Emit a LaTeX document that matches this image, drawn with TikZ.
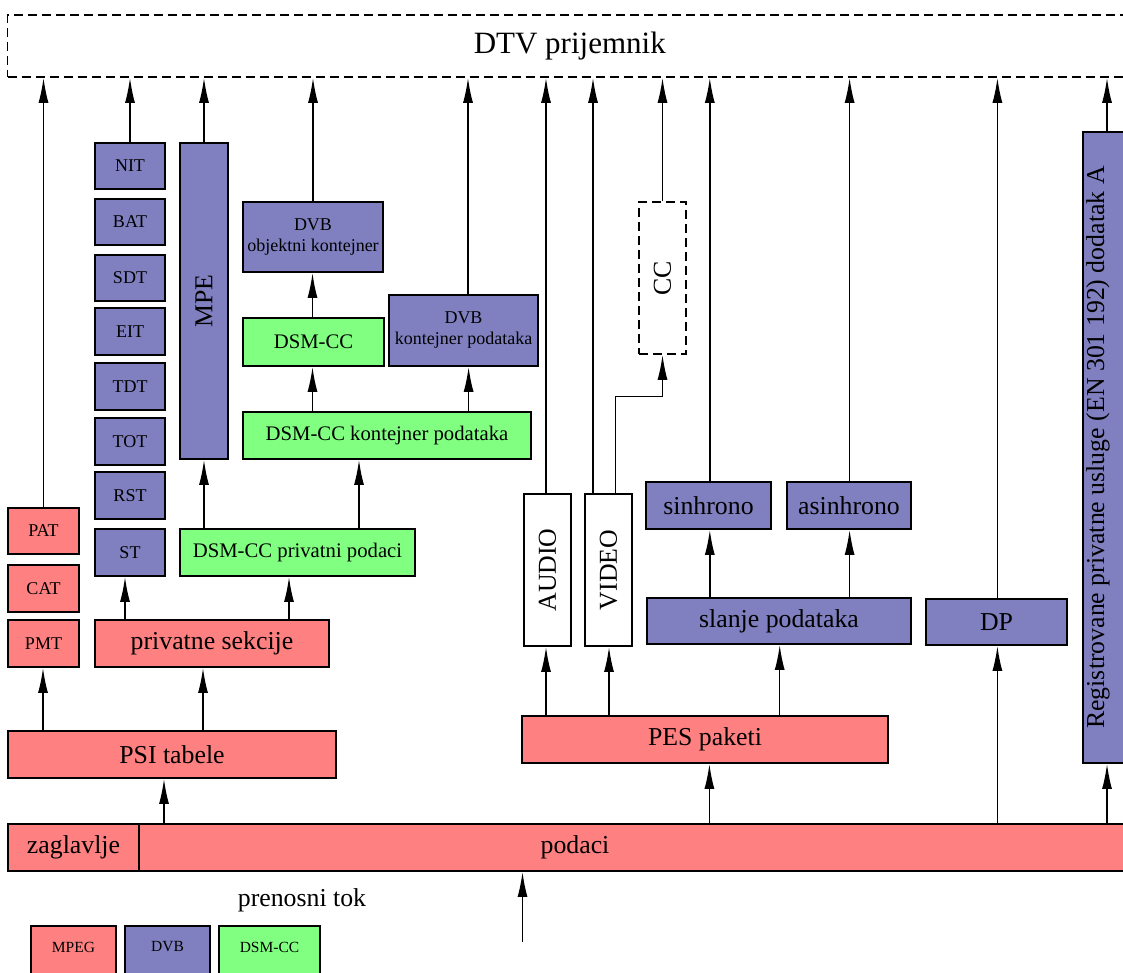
\documentclass[tikz,border=0pt]{standalone}
\usepackage{fontspec}
\setmainfont{Liberation Serif}
\usetikzlibrary{arrows.meta}
\definecolor{mpegc}{HTML}{FF8080}
\definecolor{dvbc}{HTML}{8080C0}
\definecolor{dsmc}{HTML}{80FF80}
\newcommand\SzBig{\fontsize{31}{36}\selectfont}
\newcommand\SzMed{\fontsize{25.8}{30}\selectfont}
\newcommand\SzDsm{\fontsize{20.7}{24}\selectfont}
\newcommand\SzSmall{\fontsize{18}{21}\selectfont}
\newcommand\SzTiny{\fontsize{15.5}{18}\selectfont}
\newcommand\RBox[7]{\node[#1, minimum width={(#4)-(#2)}, minimum height={(#5)-(#3)}] (#6) at ({((#2)+(#4))/2},{((#3)+(#5))/2}) {#7};}
\begin{document}
\begin{tikzpicture}[x=1pt,y=-1pt,
  box/.style={draw, line width=1.8pt, inner sep=0pt},
  mpeg/.style={box, fill=mpegc},
  dvb/.style={box, fill=dvbc},
  dsm/.style={box, fill=dsmc},
  plain/.style={box, fill=white},
  dash box/.style={draw, dash pattern=on 9pt off 5pt, line width=1.6pt, inner sep=0pt},
  arr/.style={-{Latex[length=25pt,width=10pt]}, line width=1.5pt},
  lbl/.style={inner sep=0pt}]
\useasboundingbox (0,0) rectangle (1123,972);
\clip (0,0) rectangle (1123,972);
% top receiver
\RBox{dash box, font=\SzBig}{7.5}{15}{1132}{77}{dtv}{DTV prijemnik}
% DVB SI tables
\RBox{dvb, font=\SzSmall}{95}{143}{165}{189}{nit}{NIT}
\RBox{dvb, font=\SzSmall}{95}{199}{165}{245}{bat}{BAT}
\RBox{dvb, font=\SzSmall}{95}{255}{165}{301}{sdt}{SDT}
\RBox{dvb, font=\SzSmall}{95}{308}{165}{355}{eit}{EIT}
\RBox{dvb, font=\SzSmall}{95}{363}{165}{410}{tdt}{TDT}
\RBox{dvb, font=\SzSmall}{95}{418}{165}{465}{tot}{TOT}
\RBox{dvb, font=\SzSmall}{95}{472}{165}{519}{rst}{RST}
\RBox{dvb, font=\SzSmall}{95}{529}{165}{576}{st}{ST}
% MPE
\RBox{dvb}{180}{143}{228}{459}{mpe}{}
\node[lbl, rotate=90, font=\SzMed] (mpelbl) at (mpe) {MPE};
% DSM-CC branch
\RBox{dvb, font=\SzSmall, align=center}{243}{202}{383}{272}{dvbobj}{DVB\\objektni kontejner}
\RBox{dsm, font=\SzDsm}{243}{318}{384}{366}{dsmcc}{DSM-CC}
\RBox{dvb, font=\SzSmall, align=center}{389}{295}{538}{366}{dvbkont}{DVB\\kontejner podataka}
\RBox{dsm, font=\SzDsm}{243}{412}{531}{459}{dsmkont}{DSM-CC kontejner podataka}
\RBox{dsm, font=\SzDsm}{180}{529}{415}{576}{dsmpriv}{DSM-CC privatni podaci}
% MPEG tables
\RBox{mpeg, font=\SzSmall}{8}{508}{79}{554}{pat}{PAT}
\RBox{mpeg, font=\SzSmall}{8}{565}{79}{612}{cat}{CAT}
\RBox{mpeg, font=\SzSmall}{8}{620}{79}{667}{pmt}{PMT}
\RBox{mpeg, font=\SzMed}{95}{620}{329}{667}{privsek}{privatne sekcije}
\RBox{mpeg, font=\SzMed}{8}{731}{336}{778}{psi}{PSI tabele}
% PES side
\RBox{plain}{524}{494}{571}{646}{audio}{}
\node[lbl, rotate=90, font=\SzMed] (audiolbl) at (audio) {AUDIO};
\RBox{plain}{585}{494}{632}{646}{video}{}
\node[lbl, rotate=90, font=\SzMed] (videolbl) at (video) {VIDEO};
\RBox{dash box}{639}{202}{686}{354}{cc}{}
\node[lbl, rotate=90, font=\SzMed] (cclbl) at (cc) {CC};
\RBox{dvb, font=\SzMed}{646}{482}{771}{529}{sinh}{sinhrono}
\RBox{dvb, font=\SzMed}{787}{482}{911}{529}{asinh}{asinhrono}
\RBox{dvb, font=\SzMed}{647}{598}{911}{644}{slanje}{slanje podataka}
\RBox{dvb, font=\SzMed}{926}{599}{1067}{645}{dp}{DP}
\RBox{dvb}{1083}{132}{1130}{763}{reg}{}
\node[lbl, rotate=90, font=\SzMed] (reglbl) at (1098,447.5) {Registrovane privatne usluge (EN 301 192) dodatak A};
\RBox{mpeg, font=\SzMed}{522}{716}{888}{763}{pes}{PES paketi}
% transport stream bar
\RBox{mpeg, font=\SzMed}{8}{824}{139}{871}{zag}{zaglavlje}
\RBox{mpeg}{139}{824}{1140}{871}{pod}{}
\node[lbl, font=\SzMed, anchor=base] (podlbl) at (575,853) {podaci};
\node[lbl, font=\SzMed, anchor=base] (tok) at (302,906.7) {prenosni tok};
\coordinate (src) at (522.5,942);
% legend
\RBox{mpeg}{31}{926}{116}{1000}{lmpeg}{}
\RBox{dvb}{125}{926}{210}{1000}{ldvb}{}
\RBox{dsm}{219}{926}{320}{1000}{ldsm}{}
\node[lbl, font=\SzTiny] (lmpegt) at (73.5,947) {MPEG};
\node[lbl, font=\SzTiny] (ldvbt) at (167.5,947) {DVB};
\node[lbl, font=\SzTiny] (ldsmt) at (269.5,947) {DSM-CC};
% arrows to receiver
\draw[arr] (pat.north) -- (pat.north |- dtv.south);
\draw[arr] (nit.north) -- (nit.north |- dtv.south);
\draw[arr] (mpe.north) -- (mpe.north |- dtv.south);
\draw[arr] (dvbobj.north) -- (dvbobj.north |- dtv.south);
\draw[arr] (468,0 |- dvbkont.north) -- (468,0 |- dtv.south);
\draw[arr] (546,0 |- audio.north) -- (546,0 |- dtv.south);
\draw[arr] (593,0 |- video.north) -- (593,0 |- dtv.south);
\draw[arr] (cc.north) -- (cc.north |- dtv.south);
\draw[arr] (709.8,0 |- sinh.north) -- (709.8,0 |- dtv.south);
\draw[arr] (849.6,0 |- asinh.north) -- (849.6,0 |- dtv.south);
\draw[arr] (997.4,0 |- dp.north) -- (997.4,0 |- dtv.south);
\draw[arr] (1107,0 |- reg.north) -- (1107,0 |- dtv.south);
% video to CC
\draw[arr] (615.6,0 |- video.north) -- (615.6,396.7) -| (cc.south);
% DSM-CC branch
\draw[arr] (312.5,0 |- dsmcc.north) -- (312.5,0 |- dvbobj.south);
\draw[arr] (312.5,0 |- dsmkont.north) -- (312.5,0 |- dsmcc.south);
\draw[arr] (468.6,0 |- dsmkont.north) -- (468.6,0 |- dvbkont.south);
\draw[arr] (204,0 |- dsmpriv.north) -- (204,0 |- mpe.south);
\draw[arr] (359,0 |- dsmpriv.north) -- (359,0 |- dsmkont.south);
\draw[arr] (125,0 |- privsek.north) -- (125,0 |- st.south);
\draw[arr] (289,0 |- privsek.north) -- (289,0 |- dsmpriv.south);
\draw[arr] (43,0 |- psi.north) -- (43,0 |- pmt.south);
\draw[arr] (203,0 |- psi.north) -- (203,0 |- privsek.south);
% from stream
\draw[arr] (164,0 |- pod.north) -- (164,0 |- psi.south);
\draw[arr] (709.4,0 |- pod.north) -- (709.4,0 |- pes.south);
\draw[arr] (997.4,0 |- pod.north) -- (997.4,0 |- dp.south);
\draw[arr] (1107,0 |- pod.north) -- (1107,0 |- reg.south);
\draw[arr] (546,0 |- pes.north) -- (546,0 |- audio.south);
\draw[arr] (609,0 |- pes.north) -- (609,0 |- video.south);
\draw[arr] (779.7,0 |- pes.north) -- (779.7,0 |- slanje.south);
\draw[arr] (709.8,0 |- slanje.north) -- (709.8,0 |- sinh.south);
\draw[arr] (849.6,0 |- slanje.north) -- (849.6,0 |- asinh.south);
\draw[arr] (src) -- (src |- pod.south);
\end{tikzpicture}
\end{document}
